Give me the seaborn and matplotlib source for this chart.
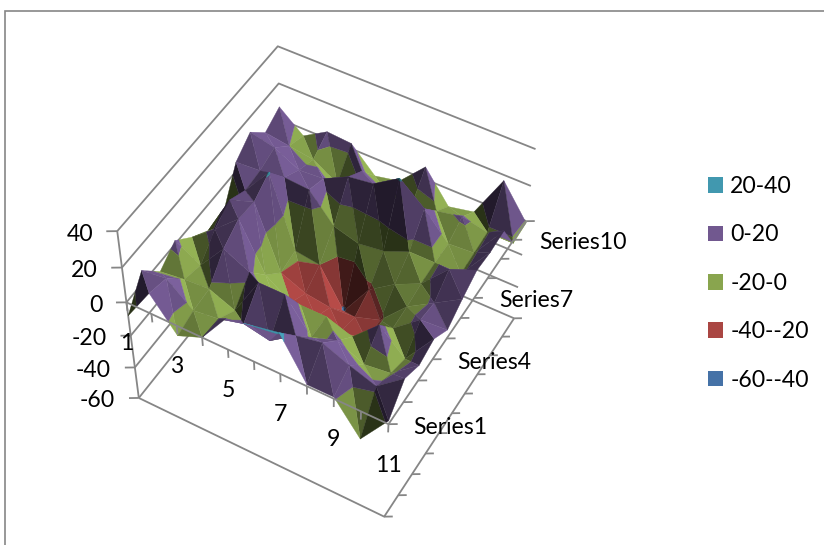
import numpy as np
import matplotlib
matplotlib.use("Agg")
import matplotlib.pyplot as plt
import seaborn as sns
from matplotlib.patches import Patch, Rectangle
from mpl_toolkits.mplot3d import proj3d
from mpl_toolkits.mplot3d.art3d import Poly3DCollection

categories = [1, 2, 3, 4, 5, 6, 7, 8, 9, 10, 11]
series_names = ["Series%d" % n for n in range(1, 12)]

series1 = [-8, 12, -6, 0, 18, 21, 24, 1, 1, -17, 2]
series2 = [7, 9, -3, -1, 3, 0, 10, 13, 7, 2, 14]
series3 = [-5, -3, -2, -8, 15, 15, -3, 2, -5, -3, 9]
series4 = [2, -6, 10, 3, -8, -3, -3, -8, 6, -7, 12]
series5 = [-7, 4, 16, -10, -20, -22, -24, -22, -8, 4, 5]
series6 = [-14, 10, 15, -20, -26, -28, -27, -22, -7, 2, 11]
series7 = [-15, 5, 21, -18, -20, -42, -22, -12, -5, 10, 16]
series8 = [5, 6, 8, 7, -8, -12, -10, -4, -4, -4, 15]
series9 = [12, 9, 2, 3, 10, 12, 21, 10, -4, -3, 16]
series10 = [2, 0, -2, -10, 3, -3, -6, -2, 1, -2, -2]
series11 = [7, -4, 4, 3, -10, -7, 7, -10, -7, 17, -1]

z_ticks = [40, 20, 0, -20, -40, -60]
band_edges = [40, 20, 0, -20, -40, -60]
band_labels = ["20-40", "0-20", "-20-0", "-40--20", "-60--40"]
band_hex = ["#4198AF", "#71588F", "#89A54E", "#AA4643", "#4572A7"]

W, H = 824, 545
sns.set_theme(style="white")
plt.rcParams["font.family"] = ["Lato", "DejaVu Sans"]
palette = sns.color_palette(band_hex)

fig = plt.figure(figsize=(W / 100, H / 100), dpi=100, facecolor="white")
ax = fig.add_axes([0, 0, 1, 1], projection="3d")
ax.set_xlim(1, 11)
ax.set_ylim(1, 11)
ax.set_zlim(-60, 40)
ax.set_axis_off()
ax.patch.set_alpha(0)

# Camera and box proportions of the oblique view
aspect = (1.0, 0.999, 0.898)
ax.view_init(elev=49.898, azim=-60.328, roll=-0.255)
ax.set_proj_type("persp", focal_length=0.721)
ax.set_box_aspect(aspect)
scale, cx, cy = 2546.60, 330.18, 277.91
x0, x1 = ax.viewLim.intervalx
y0, y1 = ax.viewLim.intervaly
S = scale * (x1 - x0)
ax.set_position([(cx + scale * x0) / W, (H - cy + scale * y0) / H, S / W, S / H])
ax.computed_zorder = False

# Surface: each cell is two triangles, cut into value bands
Z = np.array([series1, series2, series3, series4, series5, series6, series7,
              series8, series9, series10, series11], float)
ys = np.arange(1, len(series_names) + 1, dtype=float)
xs = np.array(categories, float)
box = np.array([aspect[0] / 10, aspect[1] / 10, 0.5 * aspect[2] / 100])
light = np.array([0.45, 0.5, 0.75])
light = light / np.linalg.norm(light)


def clip_below(poly, level, sign):
    out = []
    for a, b in zip(poly, poly[1:] + poly[:1]):
        ka, kb = sign * (a[2] - level) >= 0, sign * (b[2] - level) >= 0
        if ka:
            out.append(a)
        if ka != kb:
            t = (level - a[2]) / (b[2] - a[2])
            out.append(tuple(a[i] + t * (b[i] - a[i]) for i in range(3)))
    return out


verts, faces = [], []
for j in range(len(ys) - 1):
    for i in range(len(xs) - 1):
        c00 = (xs[i], ys[j], Z[j, i])
        c10 = (xs[i + 1], ys[j], Z[j, i + 1])
        c11 = (xs[i + 1], ys[j + 1], Z[j + 1, i + 1])
        c01 = (xs[i], ys[j + 1], Z[j + 1, i])
        for tri in ((c00, c10, c01), (c10, c11, c01)):
            a = np.array(tri[1]) - np.array(tri[0])
            b = np.array(tri[2]) - np.array(tri[0])
            n = np.cross(a * box, b * box)
            n = n / np.linalg.norm(n)
            shade = 0.3 + 0.8 * max(np.dot(n, light), 0.0)
            for band in range(len(band_labels)):
                poly = clip_below(list(tri), band_edges[band + 1], 1)
                if poly:
                    poly = clip_below(poly, band_edges[band], -1)
                if len(poly) >= 3:
                    verts.append(poly)
                    faces.append(np.clip(np.array(palette[band]) * shade, 0, 1))
surface = Poly3DCollection(verts, facecolors=faces, edgecolors=faces, linewidths=0.25, zorder=2)
ax.add_collection3d(surface, autolim=False)

frame = dict(color="#868686", lw=1.3, solid_capstyle="butt", clip_on=False)
for z in z_ticks:
    ax.plot([1, 1, 11], [1, 11, 11], [z, z, z], zorder=1, **frame)
    ax.plot([1, 1 - 0.3], [1, 1 - 0.18], [z, z], zorder=3, **frame)
ax.plot([1, 1], [1, 1], [-60, 40], zorder=1, **frame)
ax.plot([1, 11, 11], [1, 1, 11], [-60, -60, -60], zorder=1, **frame)
ax.plot([1, 11, 11], [1, 1, 11], [0, 0, 0], zorder=3, **frame)
for x in categories:
    ax.plot([x, x], [1, 1], [0, -5], zorder=3, **frame)
for y in ys:
    for z in (0, -60):
        ax.plot([11, 11 + 0.25], [y, y + 0.15], [z, z], zorder=3, **frame)


def label(x, y, z, text, dx, dy, ha):
    """Place a tick label at a pixel offset from its projected 3D anchor."""
    px, py, _ = proj3d.proj_transform(x, y, z, ax.get_proj())
    fig.text((cx + scale * px + dx) / W, 1 - (cy - scale * py + dy) / H, text, ha=ha, va="center",
             fontsize=16.6, color="black")


for z in z_ticks:
    label(1, 1, z, str(z), -24, 3, "right")
for x in categories[::2]:
    label(x, 1, 0, str(x), 0, 41, "center")
for y, name in list(zip(ys, series_names))[::3]:
    label(11, y, 0, name, 25, 3, "left")

handles = [Patch(facecolor=c, edgecolor="none", label=l) for c, l in zip(palette, band_labels)]
fig.legend(handles=handles, loc="upper left", bbox_to_anchor=(708 / W, 1 - 176 / H), frameon=False,
           fontsize=16.6, handlelength=0.66, handleheight=0.66, handletextpad=0.3,
           labelspacing=1.19, borderpad=0, borderaxespad=0, labelcolor="black")

fig.add_artist(Rectangle((5 / W, -0.1), 1.1, (H - 11) / H + 0.1, transform=fig.transFigure,
                         fill=False, edgecolor="#868686", lw=1.2))
fig.savefig("out.png", dpi=100)
